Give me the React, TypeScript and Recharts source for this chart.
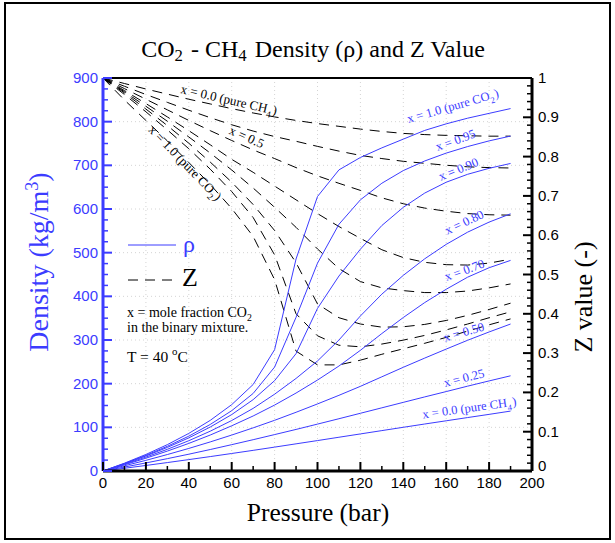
import React from 'react';
import { LineChart, Line, XAxis, YAxis, ReferenceLine } from 'recharts';

// pressure grid (bar)
const pressure = [0, 10, 20, 30, 40, 50, 60, 70, 80, 90, 100, 110, 120, 130, 140, 150, 160, 170, 180, 190];

// density (kg/m3) per CO2 mole fraction
const rhoX000 = [0, 6.25, 12.7, 19.3, 26.1, 33, 40.1, 47.3, 54.7, 62.2, 69.7, 77.3, 84.9, 92.5, 100.1, 107.6, 115, 122.4, 129.7, 137.2];
const rhoX025 = [0, 9.04, 18.5, 28.3, 38.5, 49.2, 60.3, 71.7, 83.4, 95.2, 107.4, 119.7, 132.2, 144.7, 157.2, 169.7, 181.9, 194.3, 206.3, 218];
const rhoX050 = [0, 11.9, 24.4, 37.7, 51.7, 66.6, 82.3, 98.8, 116.1, 134.5, 153.6, 173.3, 193.9, 215.7, 237.5, 258.6, 279.2, 299.4, 318.4, 336.6];
const rhoX070 = [0, 14.1, 29.3, 45.6, 63.2, 82.4, 103.5, 126, 151, 178.5, 208.3, 240.4, 276.4, 314.8, 351.5, 385.8, 416.2, 443.9, 465.5, 482.3];
const rhoX080 = [0, 15.3, 31.8, 49.7, 69.4, 91.2, 115.6, 143.4, 175.9, 212, 252, 300, 355, 405, 448, 486, 519, 547, 570, 589];
const rhoX090 = [0, 16.5, 34.4, 54, 75.9, 100.7, 129.2, 163.4, 206.9, 268.8, 372.4, 446.5, 507.9, 562.2, 603.8, 636.5, 661.3, 679.5, 693.2, 704.3];
const rhoX095 = [0, 17.1, 35.8, 56.6, 79.8, 106.6, 138.1, 177.6, 238, 352, 476, 565, 621, 659, 688, 710, 728, 743, 756, 767];
const rhoX100 = [0, 17.9, 37.9, 60.4, 86.1, 116, 151.9, 198.1, 277.9, 485.5, 628.6, 689.6, 718, 740, 760, 780, 795, 808, 819, 830];

// compressibility factor Z per CO2 mole fraction
const zX000 = [1, 0.986, 0.972, 0.959, 0.946, 0.934, 0.922, 0.911, 0.901, 0.892, 0.884, 0.877, 0.87, 0.864, 0.859, 0.856, 0.854, 0.853, 0.852, 0.852];
const zX025 = [1, 0.979, 0.958, 0.938, 0.918, 0.899, 0.881, 0.865, 0.851, 0.839, 0.826, 0.814, 0.803, 0.795, 0.788, 0.783, 0.778, 0.774, 0.772, 0.771];
const zX050 = [1, 0.973, 0.946, 0.919, 0.892, 0.866, 0.841, 0.817, 0.795, 0.772, 0.751, 0.732, 0.714, 0.695, 0.68, 0.669, 0.661, 0.655, 0.652, 0.651];
const zX070 = [1, 0.968, 0.935, 0.901, 0.866, 0.83, 0.793, 0.76, 0.725, 0.69, 0.655, 0.622, 0.592, 0.563, 0.543, 0.531, 0.525, 0.524, 0.529, 0.539];
const zX080 = [1, 0.965, 0.928, 0.89, 0.85, 0.809, 0.766, 0.72, 0.671, 0.62, 0.565, 0.515, 0.482, 0.466, 0.459, 0.454, 0.454, 0.458, 0.466, 0.476];
const zX090 = [1, 0.962, 0.921, 0.879, 0.834, 0.786, 0.735, 0.678, 0.612, 0.53, 0.425, 0.39, 0.374, 0.366, 0.367, 0.373, 0.383, 0.396, 0.411, 0.427];
const zX095 = [1, 0.958, 0.914, 0.868, 0.82, 0.768, 0.711, 0.645, 0.55, 0.4, 0.344, 0.32, 0.316, 0.323, 0.333, 0.345, 0.359, 0.374, 0.39, 0.405];
const zX100 = [1, 0.944, 0.892, 0.84, 0.785, 0.729, 0.668, 0.597, 0.487, 0.305, 0.27, 0.27, 0.282, 0.297, 0.311, 0.325, 0.34, 0.356, 0.372, 0.387];

const pressureTicks = [0, 10, 20, 30, 40, 50, 60, 70, 80, 90, 100, 110, 120, 130, 140, 150, 160, 170, 180, 190, 200];
const densityTicks = [0, 25, 50, 75, 100, 125, 150, 175, 200, 225, 250, 275, 300, 325, 350, 375, 400, 425, 450, 475, 500, 525, 550, 575, 600, 625, 650, 675, 700, 725, 750, 775, 800, 825, 850, 875, 900];
const zTicks = [0, 0.02, 0.04, 0.06, 0.08, 0.1, 0.12, 0.14, 0.16, 0.18, 0.2, 0.22, 0.24, 0.26, 0.28, 0.3, 0.32, 0.34, 0.36, 0.38, 0.4, 0.42, 0.44, 0.46, 0.48, 0.5, 0.52, 0.54, 0.56, 0.58, 0.6, 0.62, 0.64, 0.66, 0.68, 0.7, 0.72, 0.74, 0.76, 0.78, 0.8, 0.82, 0.84, 0.86, 0.88, 0.9, 0.92, 0.94, 0.96, 0.98, 1];
const gridPressure = [20, 40, 60, 80, 100, 120, 140, 160, 180];
const gridDensity = [100, 200, 300, 400, 500, 600, 700, 800];

const data = pressure.map((p, i) => ({
  p,
  r000: rhoX000[i], r025: rhoX025[i], r050: rhoX050[i], r070: rhoX070[i],
  r080: rhoX080[i], r090: rhoX090[i], r095: rhoX095[i], r100: rhoX100[i],
  z000: zX000[i], z025: zX025[i], z050: zX050[i], z070: zX070[i],
  z080: zX080[i], z090: zX090[i], z095: zX095[i], z100: zX100[i],
}));

const rhoKeys = ['r000', 'r025', 'r050', 'r070', 'r080', 'r090', 'r095', 'r100'];
const zKeys = ['z000', 'z025', 'z050', 'z070', 'z080', 'z090', 'z095', 'z100'];

const BLUE = '#3c3cff';
const DASH = '10 7';
const SANS = '"Liberation Sans", Arial, sans-serif';
const SERIF = '"Liberation Serif", "Times New Roman", serif';

const PressureTick = ({ x, y, payload }: any) => {
  const major = payload.value % 20 === 0;
  return (
    <g>
      <line x1={x} y1={y} x2={x} y2={y - (major ? 9 : 5)} stroke="#000" strokeWidth={major ? 2 : 1.5} />
      {major && (
        <text x={x} y={y + 17} textAnchor="middle" fontSize={15} fontFamily={SANS} fill="#000">
          {payload.value}
        </text>
      )}
    </g>
  );
};

const DensityTick = ({ x, y, payload }: any) => {
  const major = payload.value % 100 === 0;
  return (
    <g>
      <line x1={x} y1={y} x2={x + (major ? 9 : 5)} y2={y} stroke={BLUE} strokeWidth={major ? 2 : 1.5} />
      {major && (
        <text x={x - 5} y={y + 5} textAnchor="end" fontSize={15} fontFamily={SANS} fill={BLUE}>
          {payload.value}
        </text>
      )}
    </g>
  );
};

const ZTick = ({ x, y, payload }: any) => {
  const major = Math.round(payload.value * 100) % 10 === 0;
  const lift = payload.value === 0 ? -5 : 0;
  return (
    <g>
      <line x1={x} y1={y} x2={x - (major ? 9 : 5)} y2={y} stroke="#000" strokeWidth={major ? 2 : 1.5} />
      {major && (
        <text x={x + 6} y={y + 5 + lift} textAnchor="start" fontSize={15} fontFamily={SANS} fill="#000">
          {String(Math.round(payload.value * 10) / 10)}
        </text>
      )}
    </g>
  );
};

const Sub = ({ children }: any) => (
  <>
    <tspan dy={4} fontSize="70%">{children}</tspan>
    <tspan dy={-4}>{'\u200a'}</tspan>
  </>
);

const CurveLabel = ({ x, y, angle, color, size = 12.5, children }: any) => (
  <text
    x={x}
    y={y}
    textAnchor="middle"
    fontSize={size}
    fontFamily={SERIF}
    fill={color}
    transform={`rotate(${angle} ${x} ${y})`}
  >
    {children}
  </text>
);

export default function App() {
  return (
    <div style={{ position: 'absolute', left: 0, top: 0, width: 615, height: 543, background: '#fff' }}>
      <LineChart width={615} height={543} data={data} margin={{ top: 78, right: 82, bottom: 71, left: 102 }}>
        {gridPressure.map((g) => (
          <ReferenceLine key={`gx${g}`} yAxisId="rho" x={g} stroke="#d4d4d4" strokeDasharray="1 3" />
        ))}
        {gridDensity.map((g) => (
          <ReferenceLine key={`gy${g}`} yAxisId="rho" y={g} stroke="#d4d4d4" strokeDasharray="1 3" />
        ))}
        <XAxis
          dataKey="p"
          type="number"
          domain={[0, 200]}
          ticks={pressureTicks}
          interval={0}
          height={1}
          tickSize={0}
          tickMargin={0}
          tickLine={false}
          tick={<PressureTick />}
          axisLine={{ stroke: '#000', strokeWidth: 3 }}
        />
        <YAxis
          yAxisId="rho"
          type="number"
          domain={[0, 900]}
          ticks={densityTicks}
          interval={0}
          width={1}
          tickSize={0}
          tickMargin={0}
          tickLine={false}
          tick={<DensityTick />}
          axisLine={{ stroke: BLUE, strokeWidth: 3 }}
        />
        <YAxis
          yAxisId="z"
          orientation="right"
          type="number"
          domain={[0, 1]}
          ticks={zTicks}
          interval={0}
          width={1}
          tickSize={0}
          tickMargin={0}
          tickLine={false}
          tick={<ZTick />}
          axisLine={{ stroke: '#000', strokeWidth: 3 }}
        />
        <ReferenceLine yAxisId="rho" y={900} stroke="#000" strokeWidth={2} />
        {zKeys.map((k) => (
          <Line
            key={k}
            yAxisId="z"
            dataKey={k}
            type="linear"
            dot={false}
            stroke="#000"
            strokeWidth={1}
            strokeDasharray={DASH}
            isAnimationActive={false}
          />
        ))}
        {rhoKeys.map((k) => (
          <Line
            key={k}
            yAxisId="rho"
            dataKey={k}
            type="linear"
            dot={false}
            stroke={BLUE}
            strokeWidth={1}
            isAnimationActive={false}
          />
        ))}
      </LineChart>

      <svg width={615} height={543} style={{ position: 'absolute', left: 0, top: 0, pointerEvents: 'none' }}>
        <rect x={5} y={3} width={605} height={536} fill="none" stroke="#000" strokeWidth={2} />

        <text x={313} y={57} textAnchor="middle" fontSize={24} fontFamily={SERIF} fill="#000">
          CO<Sub>2</Sub> - CH<Sub>4</Sub> Density (ρ) and Z Value
        </text>

        <text x={0} y={0} textAnchor="middle" fontSize={28} fontFamily={SERIF} fill={BLUE} transform="translate(48 262) rotate(-90)">
          Density (kg/m<tspan dy={-10} fontSize="65%">3</tspan><tspan dy={10}>)</tspan>
        </text>
        <text x={0} y={0} textAnchor="middle" fontSize={26} fontFamily={SERIF} fill="#000" transform="translate(592 297) rotate(-90)">
          Z value (-)
        </text>
        <text x={318} y={521} textAnchor="middle" fontSize={25.5} fontFamily={SERIF} fill="#000">
          Pressure (bar)
        </text>

        <line x1={128} y1={245} x2={176} y2={245} stroke={BLUE} strokeWidth={1} />
        <text x={183} y={252} fontSize={24} fontFamily={SERIF} fill={BLUE}>ρ</text>
        <line x1={128} y1={280} x2={172} y2={280} stroke="#000" strokeWidth={1} strokeDasharray={DASH} />
        <text x={182} y={286} fontSize={26} fontFamily={SERIF} fill="#000">Z</text>

        <text x={127} y={317} fontSize={14} fontFamily={SERIF} fill="#000">
          x = mole fraction CO<Sub>2</Sub>
        </text>
        <text x={127} y={332} fontSize={14} fontFamily={SERIF} fill="#000">in the binary mixture.</text>
        <text x={127} y={362} fontSize={15.5} fontFamily={SERIF} fill="#000">
          T = 40 <tspan dy={-7} fontSize="70%">o</tspan><tspan dy={7}>C</tspan>
        </text>

        <CurveLabel x={454} y={110} angle={-16} color={BLUE}>x = 1.0 (pure CO<Sub>2</Sub>)</CurveLabel>
        <CurveLabel x={457} y={144} angle={-20} color={BLUE}>x = 0.95</CurveLabel>
        <CurveLabel x={460} y={173} angle={-22} color={BLUE}>x = 0.90</CurveLabel>
        <CurveLabel x={466} y={226} angle={-25} color={BLUE}>x = 0.80</CurveLabel>
        <CurveLabel x={466} y={274} angle={-20} color={BLUE}>x = 0.70</CurveLabel>
        <CurveLabel x={465} y={336} angle={-16} color={BLUE}>x = 0.50</CurveLabel>
        <CurveLabel x={465} y={382} angle={-14} color={BLUE}>x = 0.25</CurveLabel>
        <CurveLabel x={470} y={412} angle={-8} color={BLUE}>x = 0.0 (pure CH<Sub>4</Sub>)</CurveLabel>

        <CurveLabel x={228} y={104} angle={13} color="#000" size={13}>x = 0.0 (pure CH<Sub>4</Sub>)</CurveLabel>
        <CurveLabel x={245} y={141} angle={24} color="#000" size={13}>x = 0.5</CurveLabel>
        <CurveLabel x={182} y={166} angle={46} color="#000" size={13}>x = 1.0 (pure CO<Sub>2</Sub>)</CurveLabel>
      </svg>
    </div>
  );
}
